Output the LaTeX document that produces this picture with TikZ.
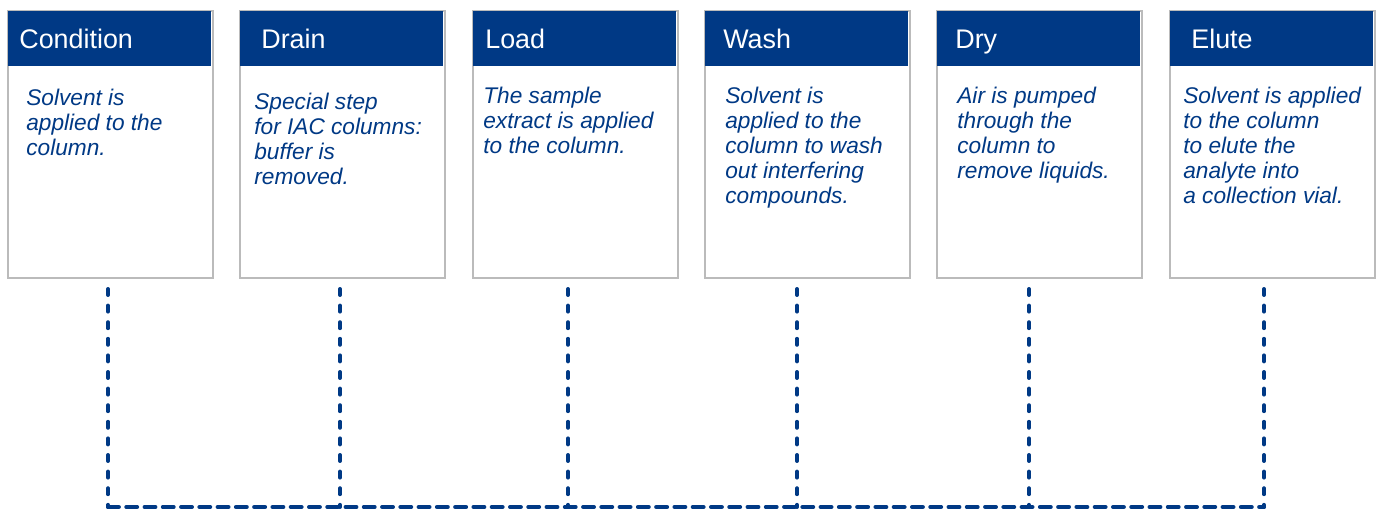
\documentclass[tikz,border=0pt]{standalone}
\usepackage{fontspec}
\setmainfont{Liberation Sans}
\usetikzlibrary{positioning}
\definecolor{stepblue}{HTML}{003985}
\definecolor{framegrey}{HTML}{BBBBBB}

\begin{document}
\begin{tikzpicture}[x=0.02cm, y=-0.02cm]
    \useasboundingbox (0,0) rectangle (1376,509);
    \tikzset{
        frame/.style={draw=framegrey, line width=1.2pt, fill=white, inner sep=0pt,
            minimum width=4.1cm, minimum height=5.34cm, anchor=north west},
        head/.style={fill=stepblue, inner sep=0pt, minimum width=4.06cm,
            minimum height=1.1cm, anchor=north west},
        headtext/.style={text=white, inner sep=0pt, anchor=base west,
            font=\fontsize{15.3}{18}\selectfont},
        bodytext/.style={text=stepblue, inner sep=0pt, anchor=north west, align=left,
            font=\fontsize{12.9}{14.2}\selectfont\itshape},
        link/.style={draw=stepblue, line width=2.27pt, line cap=round,
            dash pattern=on 3.4pt off 6.05pt},
        baseline link/.style={draw=stepblue, line width=2.27pt, line cap=round,
            dash pattern=on 6.2pt off 4.2pt}
    }
    \foreach \i/\x/\title/\tdx/\body/\bx/\by/\lx in {
        1/6/Condition/13/{Solvent is\\applied to the\\column.}/26/89/108,
        2/238/Drain/23/{Special step\\for IAC columns:\\buffer is\\removed.}/254/93/340,
        3/471/Load/14/{The sample\\extract is applied\\to the column.}/483/87/568,
        4/703/Wash/20/{Solvent is\\applied to the\\column to wash\\out interfering\\compounds.}/725/87/797,
        5/935/Dry/20/{Air is pumped\\through the\\column to\\remove liquids.}/957/87/1029,
        6/1168/Elute/23/{Solvent is applied\\to the column\\to elute the\\analyte into\\a collection vial.}/1183/87/1264}
    {
        \node[frame] (box\i) at (\x+1,10) {};
        \node[head] (head\i) at (\x+2,11) {};
        \node[headtext] (title\i) at (\x+\tdx,49) {\title};
        \node[bodytext] (text\i) at (\bx,\by) {\body};
        \coordinate (top\i) at (\lx,289);
        \coordinate (bot\i) at (\lx,507);
        \draw[link] (top\i) -- (bot\i);
    }
    \draw[baseline link] (bot1) -- (bot6);
\end{tikzpicture}
\end{document}
